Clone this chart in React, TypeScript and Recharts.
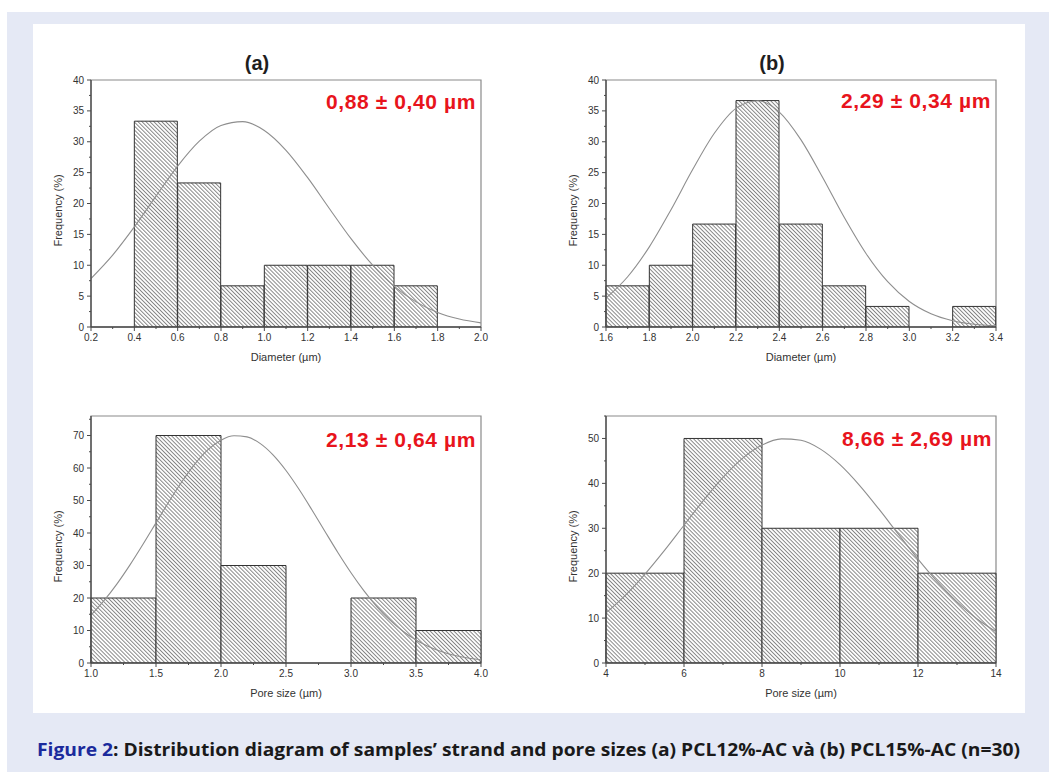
import { ComposedChart, Bar, Line, XAxis, YAxis, ReferenceArea } from 'recharts'

// (a) PCL12%-AC, strand diameter
const diamA_bins = ['0.2-0.4', '0.4-0.6', '0.6-0.8', '0.8-1.0', '1.0-1.2', '1.2-1.4', '1.4-1.6', '1.6-1.8', '1.8-2.0']
const diamA_freq = [0, 33.33, 23.33, 6.67, 10, 10, 10, 6.67, 0]
const diamA_fitX = [0.2, 0.3, 0.4, 0.5, 0.6, 0.7, 0.8, 0.9, 1.0, 1.1, 1.2, 1.3, 1.4, 1.5, 1.6, 1.7, 1.8, 1.9, 2.0]
const diamA_fitY = [7.85, 11.64, 16.21, 21.2, 26.06, 30.09, 32.64, 33.26, 31.83, 28.62, 24.18, 19.19, 14.3, 10.02, 6.59, 4.07, 2.36, 1.29, 0.66]
const diamA_xTicks = [0.2, 0.4, 0.6, 0.8, 1.0, 1.2, 1.4, 1.6, 1.8, 2.0]
const diamA_xMinor = [0.3, 0.5, 0.7, 0.9, 1.1, 1.3, 1.5, 1.7, 1.9]

// (b) PCL15%-AC, strand diameter
const diamB_bins = ['1.6-1.8', '1.8-2.0', '2.0-2.2', '2.2-2.4', '2.4-2.6', '2.6-2.8', '2.8-3.0', '3.0-3.2', '3.2-3.4']
const diamB_freq = [6.67, 10, 16.67, 36.67, 16.67, 6.67, 3.33, 0, 3.33]
const diamB_fitX = [1.6, 1.7, 1.8, 1.9, 2.0, 2.1, 2.2, 2.3, 2.4, 2.5, 2.6, 2.7, 2.8, 2.9, 3.0, 3.1, 3.2, 3.3, 3.4]
const diamB_fitY = [4.68, 8.14, 12.98, 18.99, 25.49, 31.37, 35.41, 36.65, 34.8, 30.3, 24.2, 17.72, 11.9, 7.33, 4.14, 2.15, 1.02, 0.44, 0.18]
const diamB_xTicks = [1.6, 1.8, 2.0, 2.2, 2.4, 2.6, 2.8, 3.0, 3.2, 3.4]
const diamB_xMinor = [1.7, 1.9, 2.1, 2.3, 2.5, 2.7, 2.9, 3.1, 3.3]

const diam_yTicks = [0, 5, 10, 15, 20, 25, 30, 35, 40]
const diam_yMinor = [2.5, 7.5, 12.5, 17.5, 22.5, 27.5, 32.5, 37.5]

// (a) PCL12%-AC, pore size
const poreA_bins = ['1.0-1.5', '1.5-2.0', '2.0-2.5', '2.5-3.0', '3.0-3.5', '3.5-4.0']
const poreA_freq = [20, 70, 30, 0, 20, 10]
const poreA_fitX = [1.0, 1.1, 1.2, 1.3, 1.4, 1.5, 1.6, 1.7, 1.8, 1.9, 2.0, 2.1, 2.2, 2.3, 2.4, 2.5, 2.6, 2.7, 2.8, 2.9, 3.0, 3.1, 3.2, 3.3, 3.4, 3.5, 3.6, 3.7, 3.8, 3.9, 4.0]
const poreA_fitY = [14.73, 19.17, 24.35, 30.19, 36.53, 43.12, 49.68, 55.86, 61.28, 65.63, 68.57, 69.92, 69.58, 67.57, 64.04, 59.23, 53.45, 47.08, 40.47, 33.94, 27.78, 22.2, 17.3, 13.17, 9.77, 7.08, 5.0, 3.45, 2.32, 1.53, 0.98]
const poreA_xTicks = [1.0, 1.5, 2.0, 2.5, 3.0, 3.5, 4.0]
const poreA_xMinor = [1.25, 1.75, 2.25, 2.75, 3.25, 3.75]
const poreA_yTicks = [0, 10, 20, 30, 40, 50, 60, 70]
const poreA_yMinor = [5, 15, 25, 35, 45, 55, 65, 75]

// (b) PCL15%-AC, pore size
const poreB_bins = ['4-6', '6-8', '8-10', '10-12', '12-14']
const poreB_freq = [20, 50, 30, 30, 20]
const poreB_fitX = [4, 4.5, 5, 5.5, 6, 6.5, 7, 7.5, 8, 8.5, 9, 9.5, 10, 10.5, 11, 11.5, 12, 12.5, 13, 13.5, 14]
const poreB_fitY = [11.15, 15.12, 19.81, 25.08, 30.67, 36.22, 41.33, 45.56, 48.52, 49.91, 49.6, 47.62, 44.17, 39.57, 34.25, 28.64, 23.13, 18.05, 13.61, 9.91, 6.97]
const poreB_xTicks = [4, 6, 8, 10, 12, 14]
const poreB_xMinor = [5, 7, 9, 11, 13]
const poreB_yTicks = [0, 10, 20, 30, 40, 50]
const poreB_yMinor = [5, 15, 25, 35, 45, 55]

const FONT = "'Liberation Sans', Arial, sans-serif"
const AXIS = '#4a4a4a'
const TICK_TXT = '#333'

const isMajor = (v: number, majors: number[]) => majors.some((m) => Math.abs(m - v) < 1e-9)

// eslint-disable-next-line @typescript-eslint/no-explicit-any
function xTick(p: any, majors: number[], digits: number) {
  const { x, y, payload } = p
  const v = payload.value
  const major = isMajor(v, majors)
  const y0 = y - 6
  return (
    <g>
      <line x1={x} x2={x} y1={y0} y2={y0 + (major ? 4 : 2)} stroke={AXIS} strokeWidth={1} />
      {major && (
        <text x={x} y={y0 + 7} dy="0.71em" textAnchor="middle" fontSize={10} fill={TICK_TXT} fontFamily={FONT}>
          {v.toFixed(digits)}
        </text>
      )}
    </g>
  )
}

// eslint-disable-next-line @typescript-eslint/no-explicit-any
function yTick(p: any, majors: number[]) {
  const { x, y, payload } = p
  const v = payload.value
  const major = isMajor(v, majors)
  const x0 = x + 6
  return (
    <g>
      <line x1={x0} x2={x0 - (major ? 4 : 2)} y1={y} y2={y} stroke={AXIS} strokeWidth={1} />
      {major && (
        <text x={x0 - 7} y={y} dy="0.355em" textAnchor="end" fontSize={10} fill={TICK_TXT} fontFamily={FONT}>
          {v}
        </text>
      )}
    </g>
  )
}

interface HistProps {
  left: number
  top: number
  bins: string[]
  freq: number[]
  fitX: number[]
  fitY: number[]
  xTicks: number[]
  xMinor: number[]
  xDigits: number
  yTicks: number[]
  yMinor: number[]
  yMax: number
  xTitle: string
}

function Histogram({ left, top, bins, freq, fitX, fitY, xTicks, xMinor, xDigits, yTicks, yMinor, yMax, xTitle }: HistProps) {
  const bars = bins.map((bin, i) => ({ bin, freq: freq[i] }))
  const fit = fitX.map((x, i) => ({ x, y: fitY[i] }))
  const xDomain = [xTicks[0], xTicks[xTicks.length - 1]]
  const allX = [...xTicks, ...xMinor].sort((a, b) => a - b)
  const allY = [...yTicks, ...yMinor].filter((v) => v <= yMax).sort((a, b) => a - b)
  return (
    <div style={{ position: 'absolute', left, top }}>
      <ComposedChart
        width={451}
        height={303}
        data={bars}
        margin={{ top: 20, right: 10, bottom: 0, left: 13 }}
        barCategoryGap={0}
        barGap={0}
      >
        <XAxis xAxisId="cat" dataKey="bin" type="category" hide height={0} />
        <XAxis
          xAxisId="num"
          dataKey="x"
          type="number"
          domain={xDomain}
          allowDataOverflow
          ticks={allX}
          interval={0}
          height={36}
          tickSize={4}
          tickMargin={2}
          tickLine={false}
          axisLine={{ stroke: AXIS, strokeWidth: 1.3 }}
          tick={(p: any) => xTick(p, xTicks, xDigits)}
          label={(p: any) => {
            const vb = p.viewBox
            return (
              <text x={vb.x + vb.width / 2} y={vb.y + vb.height - 2} textAnchor="middle" fontSize={11} fill="#333" fontFamily={FONT}>
                {xTitle}
              </text>
            )
          }}
        />
        <YAxis
          type="number"
          domain={[0, yMax]}
          allowDataOverflow
          ticks={allY}
          interval={0}
          width={38}
          tickSize={4}
          tickMargin={2}
          tickLine={false}
          axisLine={{ stroke: AXIS, strokeWidth: 1.3 }}
          tick={(p: any) => yTick(p, yTicks)}
          label={(p: any) => {
            const vb = p.viewBox
            const cx = vb.x + 5
            const cy = vb.y + vb.height / 2 + 7
            return (
              <text x={cx} y={cy} transform={`rotate(-90 ${cx} ${cy})`} textAnchor="middle" dominantBaseline="central" fontSize={11} fill="#333" fontFamily={FONT}>
                Frequency (%)
              </text>
            )
          }}
        />
        <ReferenceArea
          xAxisId="num"
          x1={xDomain[0]}
          x2={xDomain[1]}
          y1={0}
          y2={yMax}
          ifOverflow="visible"
          fill="none"
          stroke="#8a8a8a"
          strokeWidth={1.2}
        />
        <Bar xAxisId="cat" dataKey="freq" fill="url(#hatch)" stroke="#333" strokeWidth={1} isAnimationActive={false} />
        <Line
          xAxisId="num"
          data={fit}
          dataKey="y"
          type="monotone"
          stroke="#8e8e8e"
          strokeWidth={1.1}
          dot={false}
          isAnimationActive={false}
        />
      </ComposedChart>
    </div>
  )
}

function Note({ right, cy, text }: { right: number; cy: number; text: string }) {
  return (
    <div
      style={{
        position: 'absolute', left: right - 300, width: 300, top: cy - 13, height: 26, lineHeight: '26px',
        textAlign: 'right', color: '#e8141c', fontFamily: FONT, fontWeight: 700, fontSize: 21, letterSpacing: 0.6,
        whiteSpace: 'nowrap',
      }}
    >
      {text}
    </div>
  )
}

function Title({ cx, cy, text }: { cx: number; cy: number; text: string }) {
  return (
    <div
      style={{
        position: 'absolute', left: cx - 40, width: 80, top: cy - 12, height: 24, lineHeight: '24px',
        textAlign: 'center', color: '#1e1e1e', fontFamily: FONT, fontWeight: 700, fontSize: 20,
      }}
    >
      {text}
    </div>
  )
}

export default function App() {
  return (
    <div style={{ position: 'absolute', left: 0, top: 0, width: 1049, height: 772, background: '#fff', overflow: 'hidden' }}>
      <svg width={0} height={0} style={{ position: 'absolute' }}>
        <defs>
          <pattern id="hatch" patternUnits="userSpaceOnUse" width={2.8} height={2.8} patternTransform="rotate(-45)">
            <rect width={2.8} height={2.8} fill="#fff" />
            <line x1={0.5} y1={0} x2={0.5} y2={2.8} stroke="#6a6a6a" strokeWidth={0.8} />
          </pattern>
        </defs>
      </svg>
      <div style={{ position: 'absolute', left: 7, top: 12, width: 1042, height: 760, background: '#e5e9f5' }} />
      <div style={{ position: 'absolute', left: 33, top: 24, width: 992, height: 689, background: '#fff' }} />

      <Title cx={257} cy={63} text="(a)" />
      <Title cx={772} cy={63} text="(b)" />

      <Histogram
        left={40} top={60}
        bins={diamA_bins} freq={diamA_freq} fitX={diamA_fitX} fitY={diamA_fitY}
        xTicks={diamA_xTicks} xMinor={diamA_xMinor} xDigits={1}
        yTicks={diam_yTicks} yMinor={diam_yMinor} yMax={40} xTitle="Diameter (µm)"
      />
      <Histogram
        left={555} top={60}
        bins={diamB_bins} freq={diamB_freq} fitX={diamB_fitX} fitY={diamB_fitY}
        xTicks={diamB_xTicks} xMinor={diamB_xMinor} xDigits={1}
        yTicks={diam_yTicks} yMinor={diam_yMinor} yMax={40} xTitle="Diameter (µm)"
      />
      <Histogram
        left={40} top={396}
        bins={poreA_bins} freq={poreA_freq} fitX={poreA_fitX} fitY={poreA_fitY}
        xTicks={poreA_xTicks} xMinor={poreA_xMinor} xDigits={1}
        yTicks={poreA_yTicks} yMinor={poreA_yMinor} yMax={76} xTitle="Pore size (µm)"
      />
      <Histogram
        left={555} top={396}
        bins={poreB_bins} freq={poreB_freq} fitX={poreB_fitX} fitY={poreB_fitY}
        xTicks={poreB_xTicks} xMinor={poreB_xMinor} xDigits={0}
        yTicks={poreB_yTicks} yMinor={poreB_yMinor} yMax={55} xTitle="Pore size (µm)"
      />

      <Note right={476} cy={102} text="0,88 ± 0,40 µm" />
      <Note right={991} cy={101} text="2,29 ± 0,34 µm" />
      <Note right={476} cy={440} text="2,13 ± 0,64 µm" />
      <Note right={992} cy={439} text="8,66 ± 2,69 µm" />

      <svg width={1049} height={40} style={{ position: 'absolute', left: 0, top: 730 }}>
        <text x={37} y={26} textLength={983} lengthAdjust="spacingAndGlyphs" fontFamily="'Open Sans', sans-serif" fontWeight={700} fontSize={18.5}>
          <tspan fill="#1b2a9c">Figure 2</tspan>
          <tspan fill="#1a1a1a">: Distribution diagram of samples’ strand and pore sizes (a) PCL12%-AC và (b) PCL15%-AC (n=30)</tspan>
        </text>
      </svg>
    </div>
  )
}
